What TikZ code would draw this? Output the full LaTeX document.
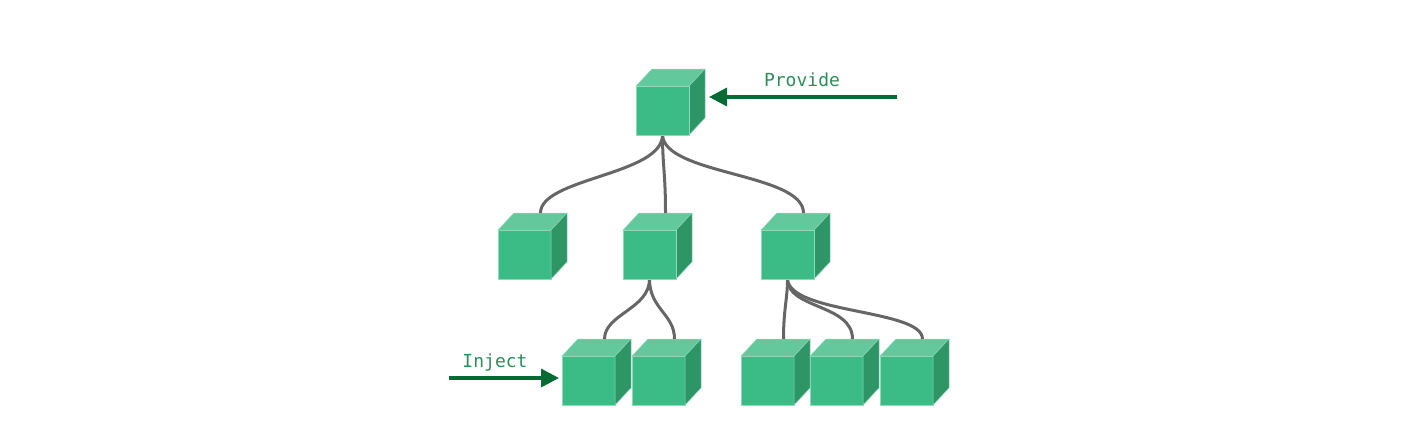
\documentclass[tikz,border=0pt]{standalone}
\usepackage{fontspec}
\setmonofont{DejaVu Sans Mono}
\usetikzlibrary{calc,arrows.meta}
\definecolor{cfront}{HTML}{3BBC86}
\definecolor{ctop}{HTML}{63C99C}
\definecolor{cside}{HTML}{2E9567}
\definecolor{cedge}{HTML}{8ED9B7}
\definecolor{carrow}{HTML}{036B33}
\definecolor{ctext}{HTML}{2F8C5B}
\definecolor{cline}{HTML}{666666}
\tikzset{
  x=1pt,y=-1pt,
  front/.style={draw=cedge,line width=0.6pt,fill=cfront,minimum width=53pt,minimum height=49pt,inner sep=0pt,outer sep=0pt},
  link/.style={draw=cline,line width=3pt},
  bigarrow/.style={draw=carrow,line width=3.4pt,-{Triangle[length=18pt,width=18pt]}},
  lbl/.style={text=ctext,font=\ttfamily\fontsize{18}{20}\selectfont,inner sep=0pt,anchor=base}
}
\newcommand{\cubefaces}[1]{%
  \fill[ctop,draw=cedge,line width=0.5pt] (#1.north west) -- ++(16,-17) -- ++(53,0) -- (#1.north east) -- cycle;
  \fill[cside,draw=cedge,line width=0.5pt] (#1.north east) -- ++(16,-17) -- ++(0,49) -- (#1.south east) -- cycle;
  \coordinate (#1-top) at ($(#1.north)+(16,-17)$);
}
\begin{document}
\begin{tikzpicture}
\useasboundingbox (0,0) rectangle (1428,431);
% front faces (nodes)
\node[front,anchor=north west] (t) at (636,86) {};
\node[front,anchor=north west] (a) at (498,230) {};
\node[front,anchor=north west] (b) at (623,230) {};
\node[front,anchor=north west] (c) at (761,230) {};
\node[front,anchor=north west] (b1) at (562,356) {};
\node[front,anchor=north west] (b2) at (632,356) {};
\node[front,anchor=north west] (c1) at (741,356) {};
\node[front,anchor=north west] (c2) at (810,356) {};
\node[front,anchor=north west] (c3) at (880,356) {};
\foreach \n in {t,a,b,c,b1,b2,c1,c2,c3}{\cubefaces{\n}}
% connectors
\draw[link] (t.south) .. controls ($(t.south)+(0,40)$) and ($(a-top)+(0,-35)$) .. (a-top);
\draw[link] (t.south) .. controls ($(t.south)+(0,30)$) and ($(b-top)+(0,-40)$) .. (b-top);
\draw[link] (t.south) .. controls ($(t.south)+(2,40)$) and ($(c-top)+(0,-40)$) .. (c-top);
\draw[link] (b.south) .. controls ($(b.south)+(0,30)$) and ($(b1-top)+(0,-25)$) .. (b1-top);
\draw[link] (b.south) .. controls ($(b.south)+(0,30)$) and ($(b2-top)+(0,-25)$) .. (b2-top);
\draw[link] (c.south) .. controls ($(c.south)+(0,20)$) and ($(c1-top)+(0,-30)$) .. (c1-top);
\draw[link] (c.south) .. controls ($(c.south)+(0,30)$) and ($(c2-top)+(0,-35)$) .. (c2-top);
\draw[link] (c.south) .. controls ($(c.south)+(2,35)$) and ($(c3-top)+(0,-30)$) .. (c3-top);
% redraw front faces over line starts
\foreach \n in {t,b,c}{\node[front] at (\n.center) {};}
% arrows and labels
\coordinate (pstart) at (897,97);
\coordinate (istart) at (449,378);
\draw[bigarrow] (pstart) -- ($(t.east |- pstart)+(20,0)$);
\draw[bigarrow] (istart) -- ($(b1.west |- istart)+(-3,0)$);
\node[lbl] (provide) at (802,86) {Provide};
\node[lbl] (inject) at (495,367) {Inject};
\end{tikzpicture}
\end{document}
